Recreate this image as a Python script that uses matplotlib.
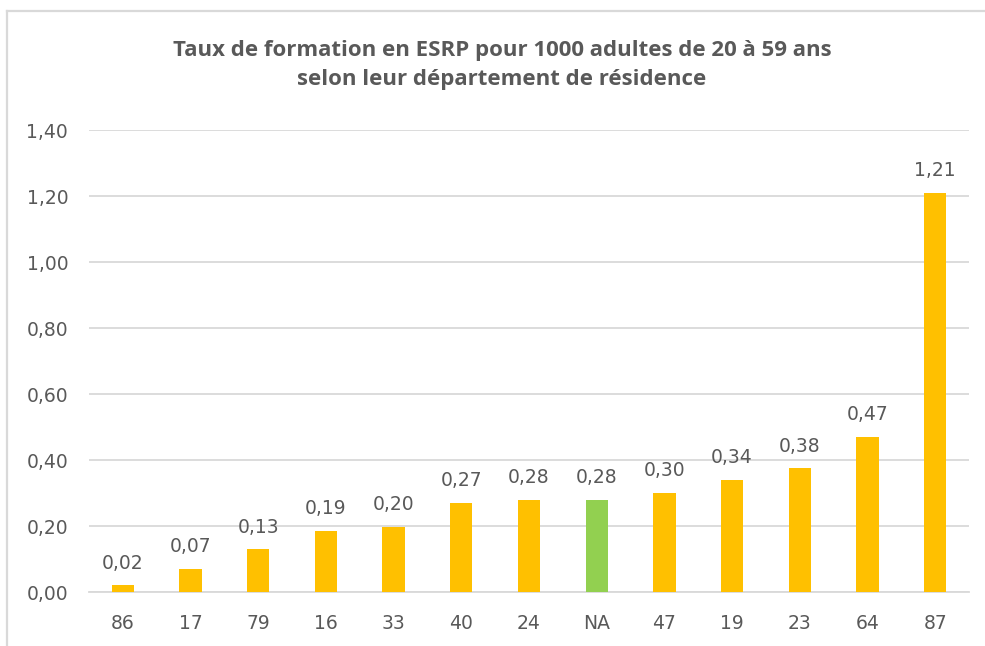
import matplotlib
matplotlib.use("Agg")
import matplotlib.pyplot as plt
from matplotlib.lines import Line2D

categories = ["86", "17", "79", "16", "33", "40", "24", "NA", "47", "19", "23", "64", "87"]
values = [0.02, 0.07, 0.13, 0.185, 0.197, 0.27, 0.28, 0.28, 0.30, 0.34, 0.375, 0.47, 1.21]
labels = ["0,02", "0,07", "0,13", "0,19", "0,20", "0,27", "0,28", "0,28", "0,30", "0,34", "0,38", "0,47", "1,21"]
highlight = "NA"
yticks = [0.0, 0.2, 0.4, 0.6, 0.8, 1.0, 1.2, 1.4]
ytick_labels = ["0,00", "0,20", "0,40", "0,60", "0,80", "1,00", "1,20", "1,40"]
title = "Taux de formation en ESRP pour 1000 adultes de 20 à 59 ans\nselon leur département de résidence"

W, H = 985, 646
fig = plt.figure(figsize=(W / 100, H / 100), dpi=100)
plt.rcParams['font.family'] = ['DejaVu Sans']

# Axes placement (pixels)
left, right, top, bottom = 89, 969, 130, 592
ax = fig.add_axes([left / W, 1 - bottom / H, (right - left) / W, (bottom - top) / H])

gray_text = "#595959"
grid_col = "#D9D9D9"
colors = ["#92D050" if c == highlight else "#FFC000" for c in categories]
x = list(range(len(categories)))
bars = ax.bar(x, values, width=0.33, color=colors, zorder=3)

for xi, v, lab in zip(x, values, labels):
    ax.annotate(lab, (xi, v), xytext=(0, 9), textcoords="offset points",
                ha="center", va="bottom", fontsize=13.5, color=gray_text)

ax.set_xlim(-0.5, len(categories) - 0.5)
ax.set_ylim(0, 1.4)
ax.set_yticks(yticks)
ax.set_yticklabels(ytick_labels)
ax.set_xticks(x)
ax.set_xticklabels(categories)
ax.tick_params(axis="both", length=0, labelsize=13.5, labelcolor=gray_text)
ax.tick_params(axis="y", pad=15)
ax.tick_params(axis="x", pad=16)
ax.yaxis.grid(True, color=grid_col, linewidth=1.3, zorder=0)
ax.set_axisbelow(True)
for s in ax.spines.values():
    s.set_visible(False)
ax.spines["bottom"].set_visible(True)
ax.spines["bottom"].set_color(grid_col)
ax.spines["bottom"].set_linewidth(1.3)

fig.text(502 / W, 1 - 65 / H, title, ha="center", va="center",
         fontsize=16, fontweight="bold", color=gray_text, linespacing=1.55,
         family=["Open Sans", "DejaVu Sans"])

# Chart border (partially visible, like the screenshot)
fig.add_artist(Line2D([7 / W, 7 / W], [0, 1 - 11 / H], transform=fig.transFigure,
                      color=grid_col, linewidth=1.6))
fig.add_artist(Line2D([7 / W, 1], [1 - 11 / H, 1 - 11 / H], transform=fig.transFigure,
                      color=grid_col, linewidth=1.6))

fig.savefig("out.png", dpi=100)
